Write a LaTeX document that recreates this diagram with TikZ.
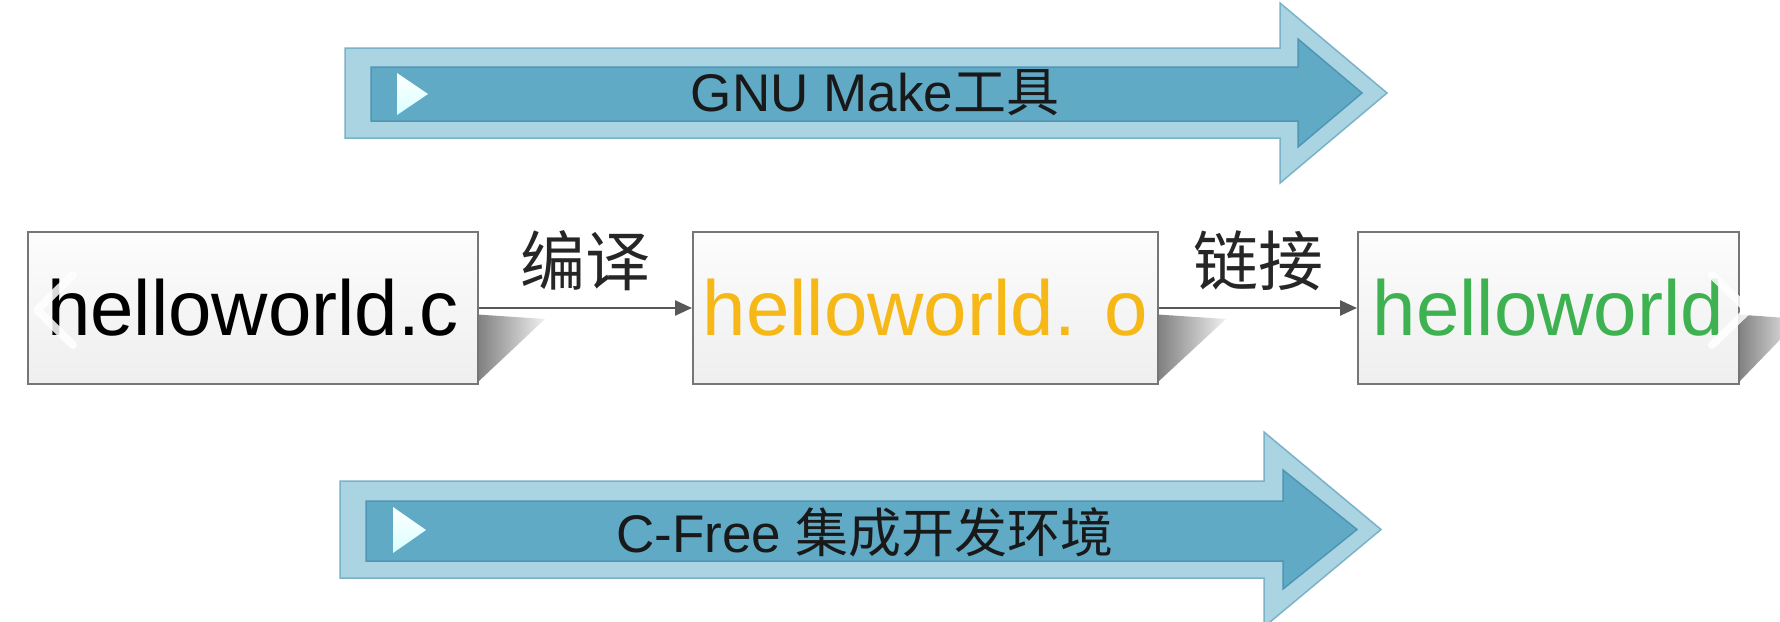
\documentclass[tikz,border=0pt]{standalone}
\usepackage{fontspec}
\newfontfamily\arial{Liberation Sans}
\newfontfamily\cjk{Noto Sans CJK SC}
\usetikzlibrary{arrows.meta}
\definecolor{bandlight}{RGB}{170,212,226}
\definecolor{bandedge}{RGB}{122,178,200}
\definecolor{banddark}{RGB}{96,170,198}
\definecolor{banddarkedge}{RGB}{80,150,180}
\definecolor{orangetxt}{RGB}{245,184,22}
\definecolor{greentxt}{RGB}{62,178,80}
\definecolor{linkgray}{RGB}{88,88,88}
\definecolor{boxedge}{RGB}{118,118,118}
\tikzset{
  outerband/.style={fill=bandlight, draw=bandedge, line width=1.5pt, line join=miter},
  innerband/.style={fill=banddark, draw=banddarkedge, line width=1.5pt},
  playtri/.style={top color=white, bottom color=white!85!cyan, draw=none},
  bandtext/.style={inner sep=0pt, text=black!90, font=\fontsize{53}{60}\selectfont},
  filebox/.style={draw=boxedge, line width=2pt, top color=white!98!gray, bottom color=gray!13, inner sep=0pt,
    font=\arial\fontsize{78}{80}\selectfont},
  boxshadow/.style={left color=black!55, right color=black!6, draw=none},
  link/.style={draw=linkgray, line width=2.5pt, -{Triangle[length=17pt,width=15pt]}},
  cjklabel/.style={inner sep=0pt, text=black!85, font=\cjk\fontsize{65}{68}\selectfont},
  chev/.style={draw=white, line width=8pt, line cap=round, line join=round, opacity=0.85}
}
\begin{document}
\begin{tikzpicture}[x=1pt,y=-1pt]
\useasboundingbox (0,0) rectangle (1780,621);
\fill[white] (0,0) rectangle (1780,621);

% top band arrow
\draw[outerband] (345,48) -- (1280,48) -- (1280,3) -- (1387,93) -- (1280,183) -- (1280,138) -- (345,138) -- cycle;
\draw[innerband] (371,67) -- (1298,67) -- (1298,39) -- (1362,93) -- (1298,147) -- (1298,121) -- (371,121) -- cycle;
\shade[playtri] (397,73) -- (428,94) -- (397,115) -- cycle;
\node[bandtext] (make) at (875,93) {\arial GNU Make\cjk 工具};

% bottom band arrow
\draw[outerband] (340,481) -- (1264,481) -- (1264,432) -- (1381,529.5) -- (1264,627) -- (1264,578) -- (340,578) -- cycle;
\draw[innerband] (366,501) -- (1283,501) -- (1283,470) -- (1357,529.5) -- (1283,589) -- (1283,561) -- (366,561) -- cycle;
\shade[playtri] (393,507) -- (426,530) -- (393,553) -- cycle;
\node[bandtext] (cfree) at (865,532) {\arial C-Free \cjk 集成开发环境};

% shadows
\shade[boxshadow] (470,314) -- (545,319) -- (479,381) -- (470,381) -- cycle;
\shade[boxshadow] (1150,314) -- (1226,319) -- (1159,381) -- (1150,381) -- cycle;
\shade[boxshadow] (1731,314) -- (1800,319) -- (1740,381) -- (1731,381) -- cycle;

% file boxes
\node[filebox, minimum width=450pt, minimum height=152pt] (src) at (253,308) {helloworld.c};
\node[filebox, minimum width=465pt, minimum height=152pt, text=orangetxt] (obj) at (925.5,308) {helloworld. o};
\node[filebox, minimum width=381pt, minimum height=152pt, text=greentxt] (exe) at (1548.5,308) {helloworld};

% connectors
\draw[link] (src.east) -- (obj.west) node[midway, yshift=47pt, cjklabel] {编译};
\draw[link] (obj.east) -- (exe.west) node[midway, yshift=47pt, cjklabel] {链接};

% overlay chevrons
\draw[chev] (73,275) -- (37,310) -- (73,345);
\draw[chev] (1712,275) -- (1748,310) -- (1712,345);
\end{tikzpicture}
\end{document}
